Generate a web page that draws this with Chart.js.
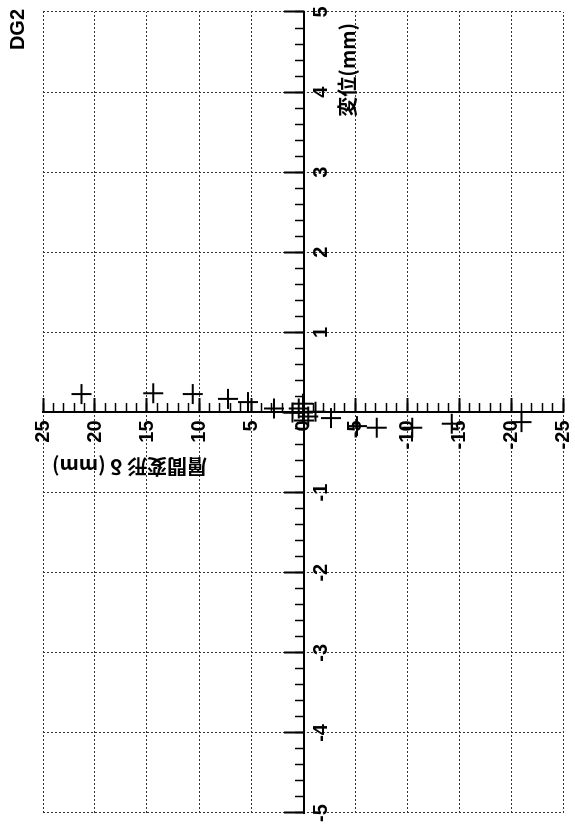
<!DOCTYPE html>
<html>
<head>
<meta charset="utf-8">
<script src="https://cdn.jsdelivr.net/npm/chart.js"></script>
<style>
html, body { margin: 0; padding: 0; background: #fff; overflow: hidden; }
/* the scan is turned a quarter turn: draw upright, then rotate */
#wrap { position: absolute; left: 0; top: 0; width: 826px; height: 575px;
        transform-origin: 0 0; transform: translate(0, 826px) rotate(-90deg); }
</style>
</head>
<body>
<div id="wrap"><canvas id="chart" width="826" height="575"></canvas></div>
<script>
var chartTitle = 'DG2';
var xTitle = '変位(mm)';
var yTitle = '層間変形 δ (mm)';

// 変位 (mm)
var displacement = [0.23, 0.24, 0.23, 0.17, 0.13, 0.05, 0.11, -0.1, 0, 0.01, 0, 0.05, -0.05, -0.07, -0.17, -0.19, -0.19, -0.14, -0.12];
// 層間変形 δ (mm)
var drift = [21.3, 14.4, 10.6, 7.2, 5.3, 2.8, 0, -0.1, 1.0, -1.2, 0, 0.4, -0.5, -2.7, -5.2, -7.1, -10.5, -14.3, -21.0];

var dispTicks = [-5, -4, -3, -2, -1, 1, 2, 3, 4, 5];
var driftTicks = [-25, -20, -15, -10, -5, 0, 5, 10, 15, 20, 25];

function noPadding(scale) {
    scale.paddingTop = 0;
    scale.paddingBottom = 0;
    scale.paddingLeft = 0;
    scale.paddingRight = 0;
}

var axisTitles = {
    id: 'axisTitles',
    afterDraw: function (chart) {
        var ctx = chart.ctx;
        var area = chart.chartArea;
        var x0 = chart.scales.x.getPixelForValue(0);
        var y0 = chart.scales.y.getPixelForValue(0);
        ctx.save();
        ctx.fillStyle = '#000';
        ctx.font = 'bold 20px "Noto Sans CJK JP", "Liberation Sans", sans-serif';
        ctx.textAlign = 'right';
        ctx.textBaseline = 'middle';
        ctx.fillText(xTitle, area.right - 11, y0 + 44);
        ctx.translate(x0 - 54, area.top + 9);
        ctx.rotate(-Math.PI / 2);
        ctx.fillText(yTitle, 0, 0);
        ctx.restore();
    }
};

Chart.defaults.font.family = '"Liberation Sans", Arial, sans-serif';
Chart.defaults.font.size = 20;
Chart.defaults.font.weight = 'bold';
Chart.defaults.color = '#000';

var points = displacement.map(function (d, i) {
    return { x: d, y: drift[i] };
});

new Chart(document.getElementById('chart'), {
    type: 'scatter',
    data: {
        datasets: [{
            data: points,
            xAxisID: 'x',
            yAxisID: 'y',
            pointStyle: 'cross',
            pointRadius: 10,
            pointBorderWidth: 2,
            borderColor: '#000',
            backgroundColor: '#000'
        }]
    },
    options: {
        responsive: false,
        devicePixelRatio: 1,
        animation: false,
        events: [],
        layout: { padding: { top: 6, left: 13, right: 9, bottom: 10 } },
        plugins: {
            legend: { display: false },
            tooltip: { enabled: false },
            title: {
                display: true,
                text: chartTitle,
                align: 'end',
                color: '#000',
                font: { size: 20, weight: 'bold' },
                padding: { top: 0, bottom: 13 }
            }
        },
        scales: {
            // 変位: minor ticks and the solid axis line
            x: {
                type: 'linear', axis: 'x', position: 'center', min: -5, max: 5,
                ticks: { stepSize: 0.2, autoSkip: false, display: false },
                grid: { drawOnChartArea: false, tickLength: -10, color: '#000', tickWidth: 1.5 },
                border: { display: true, color: '#000', width: 2 },
                afterFit: noPadding
            },
            // 変位: major ticks, labels and dotted grid
            xMajor: {
                type: 'linear', axis: 'x', position: 'center', min: -5, max: 5,
                ticks: {
                    stepSize: 1, autoSkip: false, padding: 26, maxRotation: 0,
                    callback: function (v) { return dispTicks.indexOf(v) >= 0 ? String(v) : ''; }
                },
                grid: { tickLength: -20, color: '#333', tickColor: '#000', tickWidth: 2, lineWidth: 1 },
                border: { display: false, dash: [2, 2] },
                afterFit: noPadding
            },
            // 層間変形: minor ticks and the solid axis line
            y: {
                type: 'linear', axis: 'y', position: 'center', min: -25, max: 25,
                ticks: { stepSize: 1, autoSkip: false, display: false },
                grid: { drawOnChartArea: false, tickLength: -10, color: '#000', tickWidth: 1.5 },
                border: { display: true, color: '#000', width: 2 },
                afterFit: noPadding
            },
            // 層間変形: major ticks, labels and dotted grid
            yMajor: {
                type: 'linear', axis: 'y', position: 'center', min: -25, max: 25,
                ticks: {
                    stepSize: 5, autoSkip: false, padding: 22,
                    callback: function (v) { return driftTicks.indexOf(v) >= 0 ? String(v) : ''; }
                },
                grid: { tickLength: -14, color: '#333', tickColor: '#000', tickWidth: 2, lineWidth: 1 },
                border: { display: false, dash: [2, 2] },
                afterFit: noPadding
            }
        }
    },
    plugins: [axisTitles]
});
</script>
</body>
</html>
